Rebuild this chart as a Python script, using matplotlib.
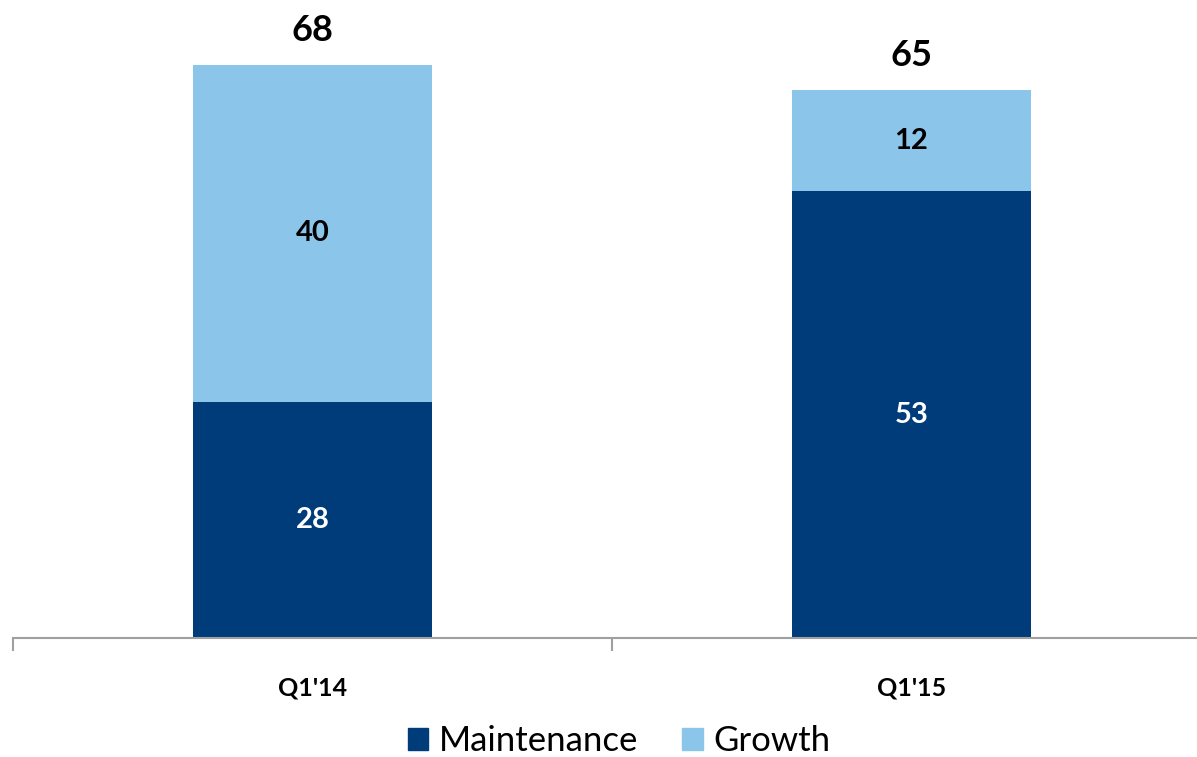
import matplotlib
matplotlib.use("Agg")
import matplotlib.pyplot as plt
from matplotlib.patches import Patch
import numpy as np

categories = ["Q1'14", "Q1'15"]
maintenance = [28, 53]
growth = [40, 12]
totals = [68, 65]

dark = "#003C7A"
light = "#8CC5EA"

plt.rcParams['font.family'] = ['Lato', 'DejaVu Sans']

W, H = 1197, 757
fig = plt.figure(figsize=(W / 100, H / 100), dpi=100)
ppu = 8.43
bottom_px = H - 638
ax_h = 638
ax = fig.add_axes([13 / W, bottom_px / H, 1198 / W, ax_h / H])

x = np.arange(len(categories))
ax.bar(x, maintenance, width=0.4, color=dark)
ax.bar(x, growth, width=0.4, bottom=maintenance, color=light)

ax.set_xlim(-0.5, 1.5)
ax.set_ylim(0, ax_h / ppu)

for i in range(len(categories)):
    ax.text(x[i], maintenance[i] / 2, str(maintenance[i]), ha='center', va='center',
            color='white', fontsize=21, fontweight='bold')
    ax.text(x[i], maintenance[i] + growth[i] / 2, str(growth[i]), ha='center', va='center',
            color='black', fontsize=21, fontweight='bold')
    ax.text(x[i], totals[i] + 2.8, str(totals[i]), ha='center', va='baseline',
            color='black', fontsize=26, fontweight='bold')

for s in ['top', 'right', 'left']:
    ax.spines[s].set_visible(False)
ax.spines['bottom'].set_color('#A0A0A0')
ax.spines['bottom'].set_linewidth(1.5)
ax.set_yticks([])
ax.set_xticks([-0.5, 0.5, 1.5])
ax.set_xticklabels([])
ax.tick_params(axis='x', length=9, width=1.5, color='#A0A0A0')
ax.set_xticks(x, minor=True)
ax.set_xticklabels(categories, minor=True, fontsize=18, fontweight='bold')
ax.tick_params(axis='x', which='minor', length=0, pad=28)

handles = [Patch(color=dark, label='Maintenance'), Patch(color=light, label='Growth')]
fig.legend(handles=handles, loc='center', bbox_to_anchor=(0.517, 1 - 741 / H), ncol=2,
           frameon=False, fontsize=25, handlelength=0.6, handleheight=0.6,
           handletextpad=0.3, columnspacing=1.25)

fig.savefig("out.png", dpi=100)
